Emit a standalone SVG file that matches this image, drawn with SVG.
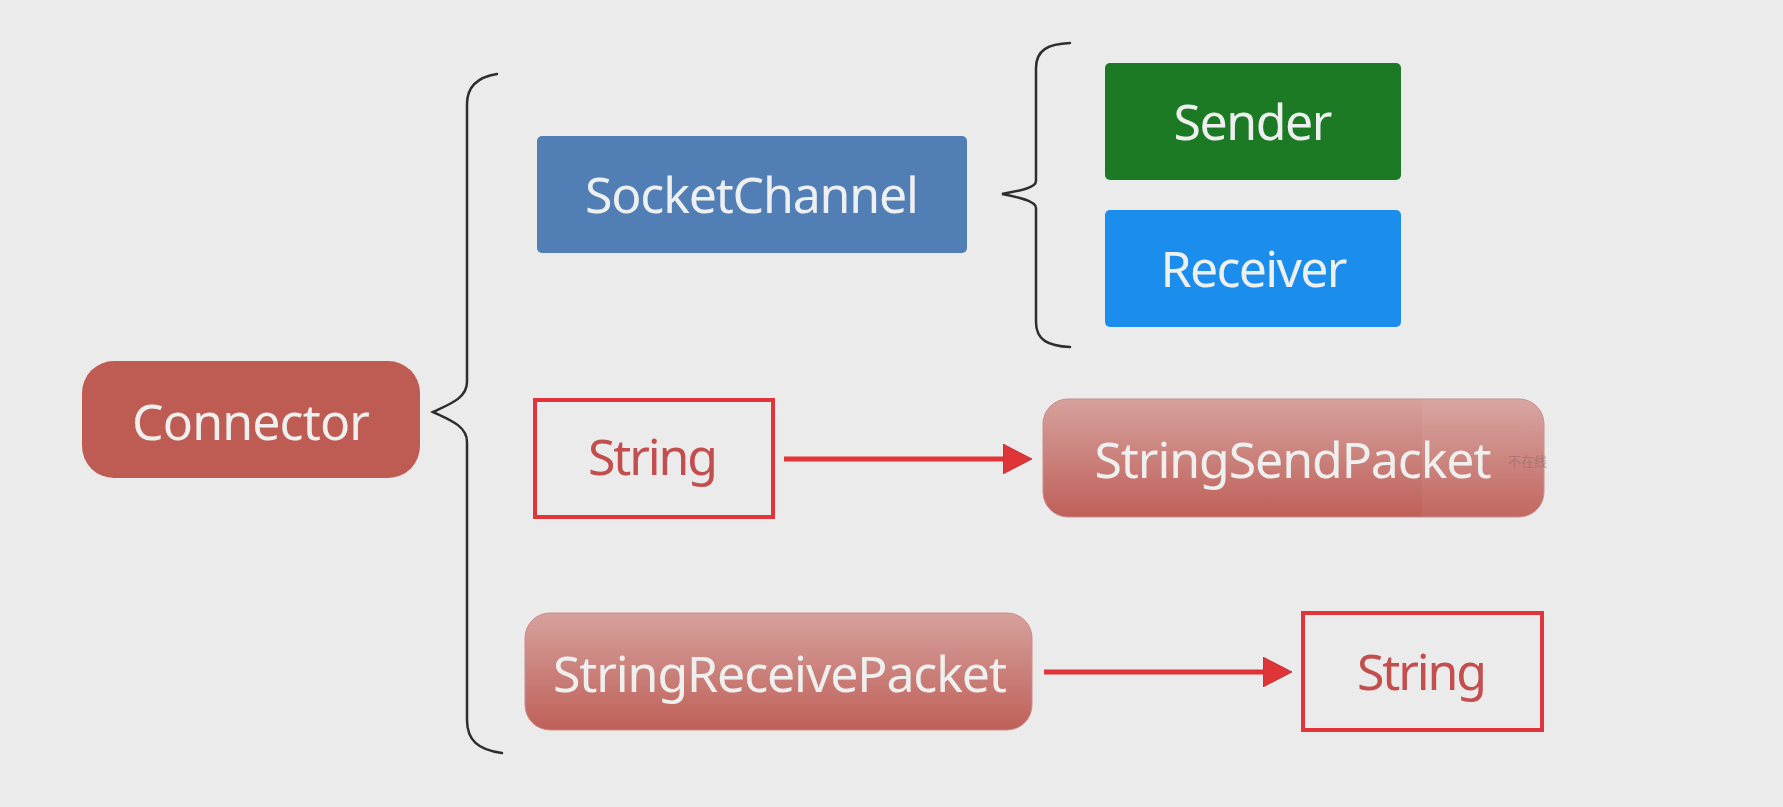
<svg xmlns="http://www.w3.org/2000/svg" width="1783" height="807" viewBox="0 0 1783 807">
  <style>
    .lbl { font-family: "Segoe UI", "Noto Sans", "Open Sans", sans-serif; font-size: 50px; text-anchor: middle; }
    .light { fill: #EEF0F0; }
    .red { fill: #C24E4E; }
    .brace { fill: none; stroke: #2E2E2E; stroke-width: 2.5; stroke-linecap: round; }
    .plain { fill: #EBEBEB; stroke: #E0353A; stroke-width: 4; }
    .arrow { stroke: #E03538; stroke-width: 5; fill: none; }
  </style>
  <defs>
    <linearGradient id="packetFill" x1="0" y1="0" x2="0" y2="1">
      <stop offset="0" stop-color="#D6A19D"/>
      <stop offset="1" stop-color="#BF6058"/>
    </linearGradient>
    <marker id="head" viewBox="0 0 29 30" refX="0" refY="15" markerUnits="userSpaceOnUse" markerWidth="29" markerHeight="30" orient="auto">
      <path d="M0,0 L29,15 L0,30 Z" fill="#E03538" stroke="#B82A2E" stroke-width="0.8"/>
    </marker>
    <clipPath id="sendClip">
      <rect x="1043" y="399" width="501" height="118" rx="25"/>
    </clipPath>
  </defs>

  <rect width="1783" height="807" fill="#EBEBEB"/>

  <!-- braces and arrows -->
  <g id="connectors">
    <path class="brace" d="M497,74 C478,77 467,86 467,104 L467,382 C467,398 450,404 433,412 C450,420 467,426 467,442 L467,720 C467,740 478,750 502,753"/>
    <path class="brace" d="M1070,43 C1048,44 1036,50 1036,68 L1036,181 C1036,188 1018,191 1002,194 C1018,197 1036,201 1036,208 L1036,322 C1036,340 1048,346 1070,347"/>
    <line class="arrow" x1="784" y1="459" x2="1003" y2="459" marker-end="url(#head)"/>
    <line class="arrow" x1="1044" y1="672" x2="1263" y2="672" marker-end="url(#head)"/>
  </g>

  <g id="connector">
    <rect x="82" y="361" width="338" height="117" rx="32" fill="#BE5C53"/>
    <text class="lbl light" x="251" y="440" textLength="238">Connector</text>
  </g>

  <g id="socketChannel">
    <rect x="537" y="136" width="430" height="117" rx="5" fill="#517EB4"/>
    <text class="lbl light" x="752" y="213" textLength="334">SocketChannel</text>
  </g>

  <g id="sender">
    <rect x="1105" y="63" width="296" height="117" rx="5" fill="#1B7A23"/>
    <text class="lbl light" x="1253" y="140" textLength="159">Sender</text>
  </g>

  <g id="receiver">
    <rect x="1105" y="210" width="296" height="117" rx="5" fill="#1B8DEC"/>
    <text class="lbl light" x="1254" y="287" textLength="187">Receiver</text>
  </g>

  <g id="stringIn">
    <rect class="plain" x="535" y="400" width="238" height="117"/>
    <text class="lbl red" x="653" y="475" textLength="130">String</text>
  </g>

  <g id="stringSendPacket">
    <rect x="1043" y="399" width="501" height="118" rx="25" fill="url(#packetFill)" stroke="#C98C88" stroke-width="1"/>
    <rect x="1422" y="399" width="125" height="118" fill="#FFFFFF" opacity="0.05" clip-path="url(#sendClip)"/>
    <text class="lbl light" x="1293" y="478" textLength="397">StringSendPacket</text>
    <text x="1508" y="466" font-family="'Noto Sans CJK SC', sans-serif" font-size="13" fill="#8E6866" opacity="0.5">不在线</text>
  </g>

  <g id="stringReceivePacket">
    <rect x="525" y="613" width="507" height="117" rx="25" fill="url(#packetFill)" stroke="#C98C88" stroke-width="1"/>
    <text class="lbl light" x="780" y="692" textLength="454">StringReceivePacket</text>
  </g>

  <g id="stringOut">
    <rect class="plain" x="1303" y="613" width="239" height="117"/>
    <text class="lbl red" x="1422" y="690" textLength="130">String</text>
  </g>
</svg>
